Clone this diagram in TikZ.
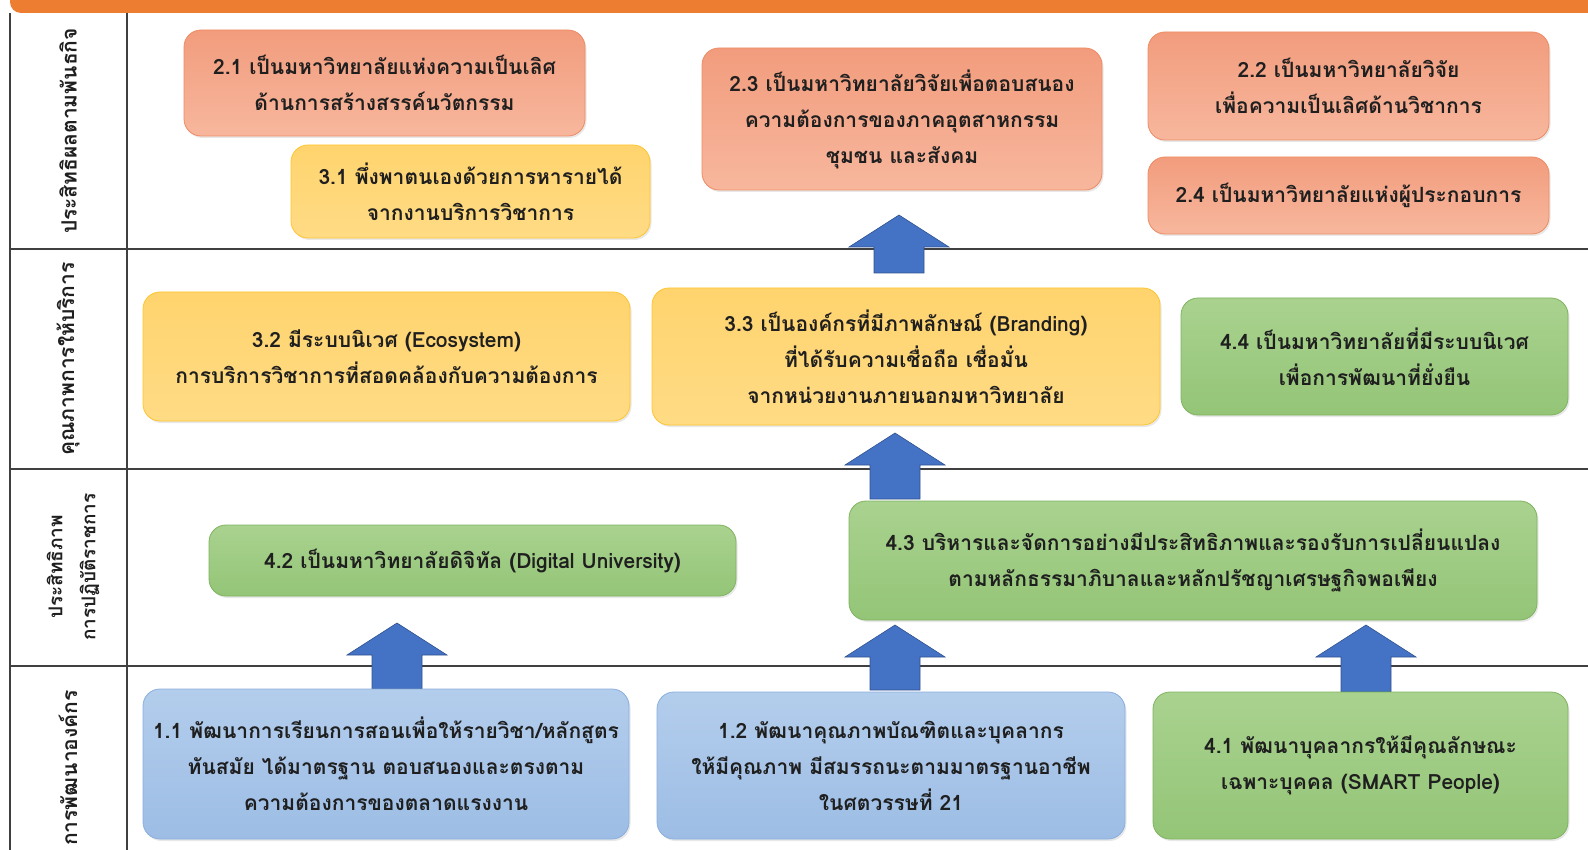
\documentclass[tikz,border=0pt]{standalone}
\usepackage{fontspec}
\newfontfamily\thai[Script=Thai]{Loma}
\usetikzlibrary{calc,shadows}
\definecolor{barorange}{HTML}{ED7D31}
\definecolor{gridline}{HTML}{404040}
\definecolor{txt}{HTML}{1F1F1F}
\definecolor{salT}{HTML}{F29C7D}\definecolor{salB}{HTML}{F7B79D}\definecolor{salD}{HTML}{EE8B63}
\definecolor{yelT}{HTML}{FFD46E}\definecolor{yelB}{HTML}{FFDB85}\definecolor{yelD}{HTML}{FFC52E}
\definecolor{grnT}{HTML}{A9D28F}\definecolor{grnB}{HTML}{94C577}\definecolor{grnD}{HTML}{7FB35F}
\definecolor{bluT}{HTML}{B3CDEC}\definecolor{bluB}{HTML}{9DBDE5}\definecolor{bluD}{HTML}{8AAEDC}
\definecolor{arrF}{HTML}{4472C4}\definecolor{arrD}{HTML}{2F528F}
\tikzset{
  box/.style={rounded corners=17pt, draw, line width=0.8pt, align=center, text=txt,
     font=\thai\bfseries\fontsize{21}{36}\selectfont, inner sep=0pt,
     drop shadow={opacity=0.18, shadow xshift=1.5pt, shadow yshift=-2pt}},
  salbox/.style={box, draw=salD, top color=salT, bottom color=salB},
  yelbox/.style={box, draw=yelD, top color=yelT, bottom color=yelB},
  grnbox/.style={box, draw=grnD, top color=grnT, bottom color=grnB},
  blubox/.style={box, draw=bluD, top color=bluT, bottom color=bluB},
  rowlabel/.style={rotate=90, text=txt, font=\thai\bfseries\fontsize{21}{24}\selectfont, align=center},
  rowlabelsmall/.style={rotate=90, text=txt, font=\thai\bfseries\fontsize{19}{33}\selectfont, align=center},
  grid/.style={draw=gridline, line width=1.4pt},
  blockarrow/.style={fill=arrF, draw=arrD, line width=0.6pt, to path={
     let \p1=(\tikztostart), \p2=(\tikztotarget) in
     (\x1-25pt,\y1) -- (\x1-25pt,\y2-32pt) -- (\x1-50pt,\y2-32pt) -- (\x1,\y2)
     -- (\x1+50pt,\y2-32pt) -- (\x1+25pt,\y2-32pt) -- (\x1+25pt,\y1) -- cycle}}
}
\begin{document}
\begin{tikzpicture}[x=1pt,y=-1pt]
\useasboundingbox (0,0) rectangle (1588,850);
\begin{scope}
\clip (0,0) rectangle (1588,850);
\fill[barorange, rounded corners=11pt] (10,-30) rectangle (1620,13);
\end{scope}
% grid
\coordinate (gTL) at (10,13);
\coordinate (gBL) at (10,850);
\coordinate (cTL) at (127,13);
\coordinate (cBL) at (127,850);
\coordinate (h1L) at (10,249); \coordinate (h1R) at (1588,249);
\coordinate (h2L) at (10,469); \coordinate (h2R) at (1588,469);
\coordinate (h3L) at (10,666); \coordinate (h3R) at (1588,666);
\draw[grid] (gTL) -- (gBL);
\draw[grid] (cTL) -- (cBL);
\draw[grid] (h1L) -- (h1R);
\draw[grid] (h2L) -- (h2R);
\draw[grid] (h3L) -- (h3R);
% row labels
\node[rowlabel] (r1) at (68,131) {ประสิทธิผลตามพันธกิจ};
\node[rowlabel] (r2) at (68,359) {คุณภาพการให้บริการ};
\node[rowlabelsmall] (r3) at (73,567) {ประสิทธิภาพ\\การปฏิบัติราชการ};
\node[rowlabel] (r4) at (68,768) {การพัฒนาองค์กร};
% arrows
\coordinate (a1s) at (899,273); \coordinate (a1t) at (899,215);
\coordinate (a2s) at (895,499); \coordinate (a2t) at (895,433);
\coordinate (a3s) at (397,689); \coordinate (a3t) at (397,623);
\coordinate (a4s) at (895,690); \coordinate (a4t) at (895,625);
\coordinate (a5s) at (1366,692); \coordinate (a5t) at (1366,625);
\draw[blockarrow] (a1s) to (a1t);
\draw[blockarrow] (a2s) to (a2t);
\draw[blockarrow] (a3s) to (a3t);
\draw[blockarrow] (a4s) to (a4t);
\draw[blockarrow] (a5s) to (a5t);
% row 1
\node[salbox, minimum width=401pt, minimum height=106pt] (n21) at (384.5,83) {2.1 เป็นมหาวิทยาลัยแห่งความเป็นเลิศ\\ด้านการสร้างสรรค์นวัตกรรม};
\node[yelbox, minimum width=359pt, minimum height=93pt] (n31) at (470.5,191.5) {3.1 พึ่งพาตนเองด้วยการหารายได้\\จากงานบริการวิชาการ};
\node[salbox, minimum width=400pt, minimum height=142pt] (n23) at (902,119) {2.3 เป็นมหาวิทยาลัยวิจัยเพื่อตอบสนอง\\ความต้องการของภาคอุตสาหกรรม\\ชุมชน และสังคม};
\node[salbox, minimum width=401pt, minimum height=108pt] (n22) at (1348.5,86) {2.2 เป็นมหาวิทยาลัยวิจัย\\เพื่อความเป็นเลิศด้านวิชาการ};
\node[salbox, minimum width=401pt, minimum height=77pt] (n24) at (1348.5,195.5) {2.4 เป็นมหาวิทยาลัยแห่งผู้ประกอบการ};
% row 2
\node[yelbox, minimum width=487pt, minimum height=129pt] (n32) at (386.5,356.5) {3.2 มีระบบนิเวศ (Ecosystem)\\การบริการวิชาการที่สอดคล้องกับความต้องการ};
\node[yelbox, minimum width=508pt, minimum height=137pt] (n33) at (906,356.5) {3.3 เป็นองค์กรที่มีภาพลักษณ์ (Branding)\\ที่ได้รับความเชื่อถือ เชื่อมั่น\\จากหน่วยงานภายนอกมหาวิทยาลัย};
\node[grnbox, minimum width=387pt, minimum height=117pt] (n44) at (1374.5,356.5) {4.4 เป็นมหาวิทยาลัยที่มีระบบนิเวศ\\เพื่อการพัฒนาที่ยั่งยืน};
% row 3
\node[grnbox, minimum width=527pt, minimum height=71pt] (n42) at (472.5,560.5) {4.2 เป็นมหาวิทยาลัยดิจิทัล (Digital University)};
\node[grnbox, minimum width=688pt, minimum height=119pt] (n43) at (1193,560.5) {4.3 บริหารและจัดการอย่างมีประสิทธิภาพและรองรับการเปลี่ยนแปลง\\ตามหลักธรรมาภิบาลและหลักปรัชญาเศรษฐกิจพอเพียง};
% row 4
\node[blubox, minimum width=486pt, minimum height=150pt] (n11) at (386,764) {1.1 พัฒนาการเรียนการสอนเพื่อให้รายวิชา/หลักสูตร\\ทันสมัย ได้มาตรฐาน ตอบสนองและตรงตาม\\ความต้องการของตลาดแรงงาน};
\node[blubox, minimum width=468pt, minimum height=147pt] (n12) at (891,765.5) {1.2 พัฒนาคุณภาพบัณฑิตและบุคลากร\\ให้มีคุณภาพ มีสมรรถนะตามมาตรฐานอาชีพ\\ในศตวรรษที่ 21};
\node[grnbox, minimum width=415pt, minimum height=147pt] (n41) at (1360.5,765.5) {4.1 พัฒนาบุคลากรให้มีคุณลักษณะ\\เฉพาะบุคคล (SMART People)};
\end{tikzpicture}
\end{document}
